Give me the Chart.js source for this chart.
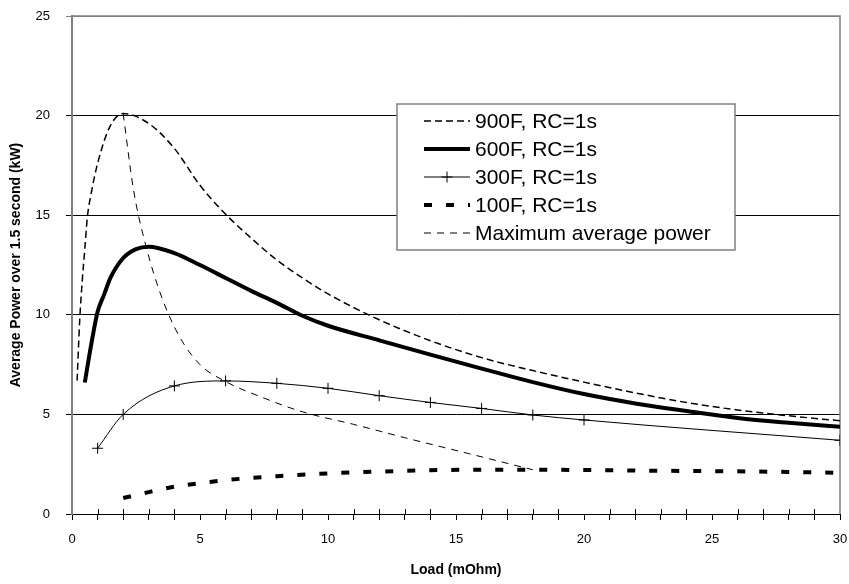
<!DOCTYPE html>
<html>
<head>
<meta charset="utf-8">
<script src="https://cdn.jsdelivr.net/npm/chart.js@4.4.1/dist/chart.umd.min.js"></script>
<style>
  html, body { margin: 0; padding: 0; background: #fff; overflow: hidden; }
  #wrap { width: 849px; height: 584px; overflow: hidden; }
</style>
</head>
<body>
<div id="wrap"><canvas id="powerChart" width="880" height="584"></canvas></div>
<script>
// Data (load in mOhm, power in kW)
const load900 = [0.2, 0.3, 0.4, 0.5, 0.6, 0.75, 1, 1.5, 2, 3, 4, 5, 6, 7, 8, 9, 10, 12, 14, 16, 18, 20, 22, 24, 26, 28, 30];
const power900 = [6.7, 9.7, 11.7, 13.3, 14.9, 16.1, 17.6, 19.5, 20.1, 19.6, 18.35, 16.5, 15.05, 13.85, 12.75, 11.85, 11.05, 9.75, 8.7, 7.85, 7.2, 6.62, 6.08, 5.6, 5.22, 4.93, 4.68];

const load600 = [0.5, 0.75, 1, 1.25, 1.5, 2, 2.5, 3, 4, 5, 6, 7, 8, 9, 10, 12, 14, 16, 18, 20, 22, 24, 26, 28, 30];
const power600 = [6.6, 8.5, 10.15, 11.0, 11.85, 12.85, 13.3, 13.42, 13.1, 12.5, 11.85, 11.2, 10.6, 9.95, 9.45, 8.72, 8.0, 7.3, 6.62, 6.02, 5.55, 5.17, 4.82, 4.58, 4.38];

const load300 = [1, 2, 4, 6, 8, 10, 12, 14, 16, 18, 20, 30];
const power300 = [3.3, 5.0, 6.43, 6.68, 6.56, 6.31, 5.94, 5.6, 5.3, 4.97, 4.72, 3.7];

const load100 = [2, 3, 4, 5, 6, 8, 10, 12, 14, 16, 18, 20, 22, 24, 26, 28, 30];
const power100 = [0.8, 1.1, 1.37, 1.55, 1.7, 1.9, 2.04, 2.13, 2.2, 2.22, 2.22, 2.21, 2.18, 2.16, 2.14, 2.11, 2.07];

const loadMax = [2, 2.4, 2.9, 3.5, 4.2, 5, 6, 7.5, 9, 11, 13, 15.5, 18];
const powerMax = [20.1, 16.3, 13.4, 10.9, 8.9, 7.5, 6.65, 5.82, 5.13, 4.5, 3.83, 3.03, 2.22];

const seriesLabels = ['900F, RC=1s', '600F, RC=1s', '300F, RC=1s', '100F, RC=1s', 'Maximum average power'];
const yTicks = [0, 5, 10, 15, 20, 25];

function toPoints(xs, ys) {
    return xs.map((x, i) => ({ x: x, y: ys[i] }));
}

const fontFamily = '"Liberation Sans", Arial, Helvetica, sans-serif';
Chart.defaults.font.family = fontFamily;
Chart.defaults.font.size = 13;
Chart.defaults.color = '#000';

// Grey frame round the plot area, plus the small minor ticks that cross the x axis
const plotFrame = {
    id: 'plotFrame',
    beforeDatasetsDraw(chart) {
        const { ctx, chartArea } = chart;
        const xScale = chart.scales.x;
        ctx.save();
        ctx.strokeStyle = '#808080';
        ctx.lineWidth = 1.5;
        ctx.beginPath();
        ctx.moveTo(chartArea.left, chartArea.top);
        ctx.lineTo(chartArea.right, chartArea.top);
        ctx.lineTo(chartArea.right, chartArea.bottom);
        ctx.stroke();
        ctx.strokeStyle = '#000';
        ctx.lineWidth = 1;
        ctx.beginPath();
        xScale.ticks.forEach(t => {
            if (t.value % 5 !== 0) {
                const px = Math.round(xScale.getPixelForValue(t.value)) + 0.5;
                ctx.moveTo(px, chartArea.bottom - 5);
                ctx.lineTo(px, chartArea.bottom);
            }
        });
        ctx.stroke();
        ctx.restore();
    }
};

// Boxed legend sitting inside the plot area
const boxedLegend = {
    id: 'boxedLegend',
    afterDatasetsDraw(chart) {
        const { ctx, chartArea } = chart;
        const x0 = chartArea.left + 325;
        const y0 = chartArea.top + 88;
        const w = 338, rowH = 28;
        const h = rowH * chart.data.datasets.length + 6;
        ctx.save();
        ctx.fillStyle = '#fff';
        ctx.fillRect(x0, y0, w, h);
        ctx.strokeStyle = '#808080';
        ctx.lineWidth = 1.5;
        ctx.strokeRect(x0, y0, w, h);
        chart.data.datasets.forEach((ds, i) => {
            const y = y0 + 17 + i * rowH;
            const sx0 = x0 + 27, sx1 = x0 + 73;
            ctx.beginPath();
            ctx.setLineDash(ds.borderDash || []);
            ctx.lineWidth = ds.borderWidth;
            ctx.strokeStyle = '#000';
            ctx.moveTo(sx0, y);
            ctx.lineTo(sx1, y);
            ctx.stroke();
            ctx.setLineDash([]);
            if (ds.pointRadius > 0) {
                const cx = (sx0 + sx1) / 2, r = ds.pointRadius;
                ctx.lineWidth = 1;
                ctx.beginPath();
                ctx.moveTo(cx - r, y); ctx.lineTo(cx + r, y);
                ctx.moveTo(cx, y - r); ctx.lineTo(cx, y + r);
                ctx.stroke();
            }
            ctx.fillStyle = '#000';
            ctx.font = '21px ' + fontFamily;
            ctx.textBaseline = 'middle';
            ctx.textAlign = 'left';
            ctx.fillText(ds.label, x0 + 78, y + 1);
        });
        ctx.restore();
    }
};

const ctx = document.getElementById('powerChart').getContext('2d');
new Chart(ctx, {
    type: 'line',
    data: {
        datasets: [
            {
                label: seriesLabels[0],
                data: toPoints(load900, power900),
                borderColor: '#000',
                borderWidth: 1.5,
                borderDash: [7, 4],
                pointRadius: 0
            },
            {
                label: seriesLabels[1],
                data: toPoints(load600, power600),
                borderColor: '#000',
                borderWidth: 4,
                pointRadius: 0
            },
            {
                label: seriesLabels[2],
                data: toPoints(load300, power300),
                borderColor: '#000',
                borderWidth: 1,
                pointStyle: 'cross',
                pointRadius: 5.5,
                pointBorderWidth: 1,
                pointBorderColor: '#000'
            },
            {
                label: seriesLabels[3],
                data: toPoints(load100, power100),
                borderColor: '#000',
                borderWidth: 4,
                borderDash: [8, 14],
                borderCapStyle: 'butt',
                pointRadius: 0
            },
            {
                label: seriesLabels[4],
                data: toPoints(loadMax, powerMax),
                borderColor: '#000',
                borderWidth: 1,
                borderDash: [7, 6],
                pointRadius: 0
            }
        ]
    },
    options: {
        responsive: false,
        animation: false,
        cubicInterpolationMode: 'monotone',
        layout: { padding: { left: 4, right: 40, top: 16, bottom: 2 } },
        plugins: {
            legend: { display: false },
            tooltip: { enabled: false }
        },
        scales: {
            x: {
                type: 'linear',
                min: 0,
                max: 30,
                afterFit(scale) { scale.height = 68; },
                grid: { drawOnChartArea: false, drawTicks: true, tickLength: 6, color: '#000' },
                border: { display: true, color: '#000', width: 1 },
                ticks: {
                    stepSize: 1,
                    autoSkip: false,
                    maxRotation: 0,
                    padding: 12,
                    font: { size: 13 },
                    callback: v => (v % 5 === 0 ? String(v) : '')
                },
                title: { display: true, text: 'Load (mOhm)', font: { size: 14, weight: 'bold' }, padding: { top: 4, bottom: 3 } }
            },
            y: {
                min: 0,
                max: 25,
                afterFit(scale) {
                    scale.width = 68;
                    scale.paddingTop = 0;
                    scale.paddingBottom = 0;
                },
                afterBuildTicks(scale) { scale.ticks = yTicks.map(v => ({ value: v })); },
                grid: {
                    color: c => (c.tick && c.tick.value === 25 ? '#808080' : '#000'),
                    lineWidth: 1,
                    tickLength: 6
                },
                border: { display: true, color: '#808080', width: 2 },
                ticks: { padding: 16, font: { size: 13 } },
                title: { display: true, text: 'Average Power over 1.5 second (kW)', font: { size: 14, weight: 'bold' }, padding: { top: 4, bottom: 4 } }
            }
        }
    },
    plugins: [plotFrame, boxedLegend]
});
</script>
</body>
</html>
